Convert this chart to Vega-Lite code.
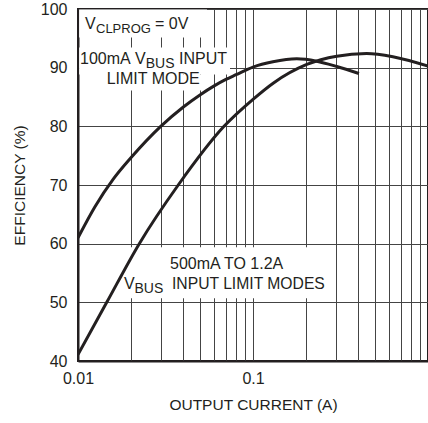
{
  "$schema": "https://vega.github.io/schema/vega-lite/v6.json",
  "width": 350,
  "height": 352,
  "autosize": "none",
  "padding": {"left": 78, "top": 9, "right": 0, "bottom": 62},
  "background": "white",
  "config": {
    "font": "Liberation Sans",
    "view": {"stroke": "#231f20", "strokeWidth": 2},
    "axis": {
      "labelFont": "Liberation Sans",
      "titleFont": "Liberation Sans",
      "labelColor": "#231f20",
      "titleColor": "#231f20",
      "titleFontWeight": "normal",
      "labelFontSize": 16,
      "titleFontSize": 15.5,
      "gridColor": "#444444",
      "gridWidth": 1,
      "gridOpacity": 1,
      "domainColor": "#231f20",
      "domainWidth": 2,
      "ticks": false
    }
  },
  "datasets": {
    "curves": [
      {"mode": "100mA", "x": 0.01, "y": 61.0},
      {"mode": "100mA", "x": 0.0125, "y": 66.3},
      {"mode": "100mA", "x": 0.0159, "y": 71.0},
      {"mode": "100mA", "x": 0.02, "y": 74.6},
      {"mode": "100mA", "x": 0.0297, "y": 80.0},
      {"mode": "100mA", "x": 0.04, "y": 83.3},
      {"mode": "100mA", "x": 0.05, "y": 85.4},
      {"mode": "100mA", "x": 0.06, "y": 86.9},
      {"mode": "100mA", "x": 0.07, "y": 88.0},
      {"mode": "100mA", "x": 0.08, "y": 88.8},
      {"mode": "100mA", "x": 0.1, "y": 90.1},
      {"mode": "100mA", "x": 0.13, "y": 91.0},
      {"mode": "100mA", "x": 0.178, "y": 91.5},
      {"mode": "100mA", "x": 0.231, "y": 91.1},
      {"mode": "100mA", "x": 0.301, "y": 90.2},
      {"mode": "100mA", "x": 0.403, "y": 89.0},
      {"mode": "500mA", "x": 0.01, "y": 41.1},
      {"mode": "500mA", "x": 0.0146, "y": 50.0},
      {"mode": "500mA", "x": 0.0224, "y": 60.0},
      {"mode": "500mA", "x": 0.0374, "y": 70.0},
      {"mode": "500mA", "x": 0.0683, "y": 80.0},
      {"mode": "500mA", "x": 0.1, "y": 84.6},
      {"mode": "500mA", "x": 0.131, "y": 87.4},
      {"mode": "500mA", "x": 0.203, "y": 90.55},
      {"mode": "500mA", "x": 0.301, "y": 91.96},
      {"mode": "500mA", "x": 0.446, "y": 92.4},
      {"mode": "500mA", "x": 0.63, "y": 91.86},
      {"mode": "500mA", "x": 1.0, "y": 90.26}
    ],
    "boxes": [
      {"x": 0.01015, "x2": 0.05459, "y": 95.14, "y2": 99.9},
      {"x": 0.01015, "x2": 0.07389, "y": 88.84, "y2": 93.44},
      {"x": 0.01408, "x2": 0.05318, "y": 86.12, "y2": 88.84},
      {"x": 0.01715, "x2": 0.2754, "y": 50.68, "y2": 59.37}
    ],
    "notes": [
      {"x": 0.01096, "y": 96.63, "t": "V", "sz": 16},
      {"x": 0.012673, "y": 95.95, "t": "CLPROG", "sz": 13},
      {"x": 0.027542, "y": 96.63, "t": "= 0V", "sz": 16},
      {"x": 0.010267, "y": 90.545, "t": "100mA", "sz": 16},
      {"x": 0.02117, "y": 90.545, "t": "V", "sz": 16},
      {"x": 0.024369, "y": 89.95, "t": "BUS", "sz": 14},
      {"x": 0.03777, "y": 90.545, "t": "INPUT", "sz": 16},
      {"x": 0.014588, "y": 87.14, "t": "LIMIT MODE", "sz": 16},
      {"x": 0.033553, "y": 55.71, "t": "500mA TO 1.2A", "sz": 16},
      {"x": 0.018323, "y": 52.21, "t": "V", "sz": 16},
      {"x": 0.021032, "y": 51.62, "t": "BUS", "sz": 14},
      {"x": 0.034446, "y": 52.21, "t": "INPUT LIMIT MODES", "sz": 15.7}
    ]
  },
  "encoding": {
    "x": {
      "field": "x",
      "type": "quantitative",
      "scale": {"type": "log", "domain": [0.01, 1]},
      "axis": {
        "title": "OUTPUT CURRENT (A)",
        "values": [0.01, 0.02, 0.03, 0.04, 0.05, 0.06, 0.07, 0.08, 0.09, 0.1, 0.2, 0.3, 0.4, 0.5, 0.6, 0.7, 0.8, 0.9, 1],
        "labelExpr": "datum.value == 0.01 ? '0.01' : (datum.value == 0.1 ? '0.1' : '')",
        "labelFlush": false,
        "labelPadding": 9,
        "titlePadding": 11,
        "labelOverlap": false
      }
    },
    "y": {
      "field": "y",
      "type": "quantitative",
      "scale": {"domain": [40, 100]},
      "axis": {
        "title": "EFFICIENCY (%)",
        "values": [40, 50, 60, 70, 80, 90, 100],
        "labelPadding": 11,
        "titlePadding": 13
      }
    }
  },
  "layer": [
    {
      "data": {"name": "boxes"},
      "mark": {"type": "rect", "fill": "white", "stroke": null},
      "encoding": {
        "x2": {"field": "x2"},
        "y2": {"field": "y2"}
      }
    },
    {
      "data": {"name": "curves"},
      "mark": {"type": "line", "color": "#231f20", "strokeWidth": 3, "interpolate": "monotone", "clip": true},
      "encoding": {
        "detail": {"field": "mode"}
      }
    },
    {
      "data": {"name": "notes"},
      "mark": {"type": "text", "align": "left", "baseline": "alphabetic", "color": "#231f20", "font": "Liberation Sans"},
      "encoding": {
        "text": {"field": "t"},
        "size": {"field": "sz", "type": "quantitative", "scale": null}
      }
    }
  ]
}
